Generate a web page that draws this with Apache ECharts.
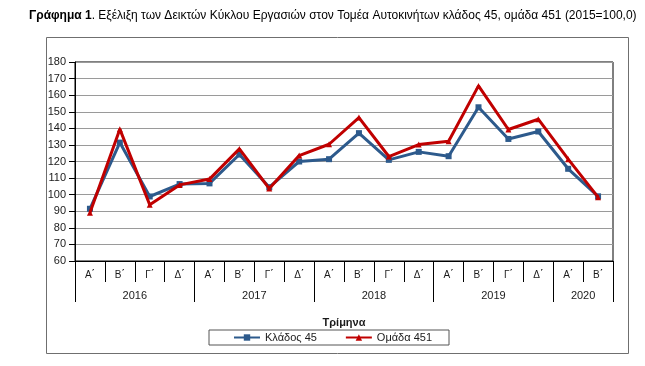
<!DOCTYPE html>
<html>
<head>
<meta charset="utf-8">
<script src="https://cdn.jsdelivr.net/npm/echarts@6/dist/echarts.min.js"></script>
<style>html,body{margin:0;padding:0;background:#fff;}#c{width:645px;height:366px;}</style>
</head>
<body>
<div id="c"></div>
<script>
var quarters = ['Α΄','Β΄','Γ΄','Δ΄','Α΄','Β΄','Γ΄','Δ΄','Α΄','Β΄','Γ΄','Δ΄','Α΄','Β΄','Γ΄','Δ΄','Α΄','Β΄'];
var years = ['2016','2017','2018','2019','2020'];
var yearSpans = [4,4,4,4,2];
var klados45 = [91.5,131.4,98.9,106.4,106.8,124.2,104.5,120.0,121.4,137.1,121.0,125.8,123.2,152.7,133.6,138.1,115.6,99.0];
var omada451 = [89.1,139.5,93.9,105.9,109.4,127.6,103.7,123.6,130.4,146.5,123.0,130.2,132.2,165.6,139.3,145.5,121.4,98.5];
var seriesNames = ['Κλάδος 45','Ομάδα 451'];
var yTicks = {min:60, max:180, interval:10};

// year axis built on half-quarter points (boundaryGap false)
var yearCats = [];
var yearBounds = [0];
var acc = 0;
for (var i = 0; i < yearSpans.length; i++) { acc += yearSpans[i]; yearBounds.push(acc * 2); }
for (var k = 0; k <= acc * 2; k++) yearCats.push('');
var yearCenters = [];
for (var j = 0; j < years.length; j++) {
  var c = (yearBounds[j] + yearBounds[j+1]) / 2;
  yearCats[c] = years[j];
  yearCenters.push(c);
}

var FONT = 'Liberation Sans';
var TXT = '#1a1a1a';
var chart = echarts.init(document.getElementById('c'), null, {renderer:'canvas'});
chart.setOption({
  animation: false,
  backgroundColor: '#fff',
  textStyle: {fontFamily: FONT},
  title: {
    left: 24, top: 5,
    text: '{b|Γράφημα 1}. Εξέλιξη των Δεικτών Κύκλου Εργασιών στον Τομέα Αυτοκινήτων κλάδος 45, ομάδα 451 (2015=100,0)',
    textStyle: {fontSize: 12, fontWeight: 'normal', color: '#000', fontFamily: FONT,
      rich: {b: {fontWeight: 'bold', fontSize: 12, color: '#000', fontFamily: FONT}}}
  },
  graphic: [{
    type: 'rect', silent: true, z: -1,
    shape: {x: 46.5, y: 37.5, width: 582, height: 316},
    style: {fill: 'none', stroke: '#6f6f6f', lineWidth: 1}
  }],
  grid: {left: 75, top: 62, right: 32, bottom: 105, show: true, borderColor: '#000', borderWidth: 1, backgroundColor: 'transparent'},
  legend: {
    bottom: 21, left: 209,
    data: seriesNames,
    itemWidth: 26, itemHeight: 8, itemGap: 28,
    borderColor: '#555', borderWidth: 1, padding: [2, 17, 2, 24],
    textStyle: {fontSize: 11, color: TXT, fontFamily: FONT}
  },
  xAxis: [{
    type: 'category', data: quarters, boundaryGap: true, position: 'bottom',
    axisLine: {lineStyle: {color: '#000', width: 1}},
    axisTick: {show: true, length: 21, lineStyle: {color: '#000'}},
    axisLabel: {fontSize: 10, color: TXT, margin: 9, interval: 0}
  }, {
    type: 'category', data: yearCats, boundaryGap: false, position: 'bottom',
    axisLine: {show: false},
    axisTick: {show: true, length: 41, lineStyle: {color: '#000'},
      interval: function (idx) { return yearBounds.indexOf(idx) >= 0; }},
    axisLabel: {fontSize: 11, color: TXT, margin: 29,
      interval: function (idx) { return yearCenters.indexOf(idx) >= 0; }},
    name: 'Τρίμηνα', nameLocation: 'middle', nameGap: 56,
    nameTextStyle: {fontSize: 11, fontWeight: 'bold', color: TXT, fontFamily: FONT}
  }],
  yAxis: {
    type: 'value', min: yTicks.min, max: yTicks.max, interval: yTicks.interval,
    axisLine: {show: true, lineStyle: {color: '#000'}},
    axisTick: {show: true, length: 6, lineStyle: {color: '#000'}},
    axisLabel: {fontSize: 11, color: TXT, margin: 9},
    splitLine: {show: true, lineStyle: {color: '#9a9a9a', width: 1}}
  },
  series: [{
    name: seriesNames[0], type: 'line', data: klados45, xAxisIndex: 0,
    symbol: 'rect', symbolSize: 6, showAllSymbol: true,
    lineStyle: {color: '#2d5a8c', width: 3},
    itemStyle: {color: '#2d5a8c'}, z: 3
  }, {
    name: seriesNames[1], type: 'line', data: omada451, xAxisIndex: 0,
    symbol: 'triangle', symbolSize: 6, showAllSymbol: true,
    lineStyle: {color: '#c00000', width: 3},
    itemStyle: {color: '#c00000'}, z: 4
  }]
});
</script>
</body>
</html>
